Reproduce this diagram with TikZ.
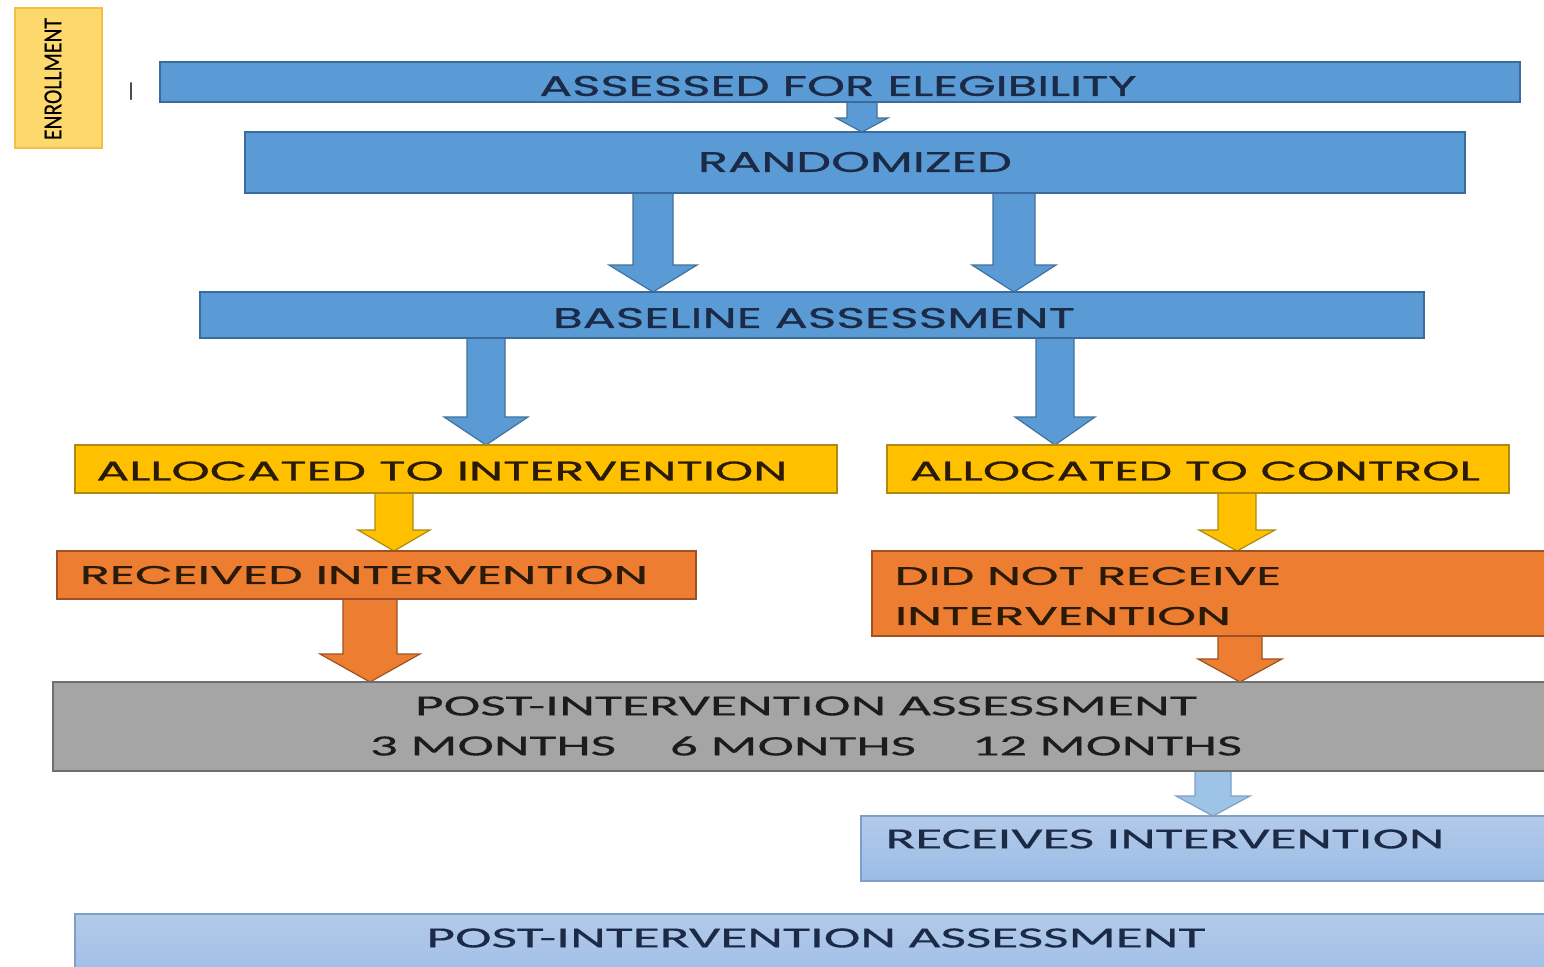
\documentclass[tikz,border=0pt]{standalone}
\usepackage{graphicx}
\usepackage{fontspec}
\usetikzlibrary{calc}
\setmainfont{Poppins}[FakeBold=0.7]
\newfontfamily\calfont{Carlito}[FakeBold=0.3]
\newlength\pxu \setlength\pxu{0.5pt}
\newcommand\tx[3]{\resizebox{#1\pxu}{#2\pxu}{#3}}
\definecolor{blu}{HTML}{5B9BD5}
\definecolor{bluline}{HTML}{3A6A9E}
\definecolor{bluarrline}{HTML}{41719C}
\definecolor{ylw}{HTML}{FFC000}
\definecolor{ylwline}{HTML}{B08A10}
\definecolor{org}{HTML}{ED7D31}
\definecolor{orgline}{HTML}{9E5224}
\definecolor{gry}{HTML}{A5A5A5}
\definecolor{gryline}{HTML}{6E6E6E}
\definecolor{lbtop}{HTML}{B3CAE9}
\definecolor{lbbot}{HTML}{9BBCE6}
\definecolor{lbline}{HTML}{7F9FC8}
\definecolor{lbarr}{HTML}{9DC3E6}
\definecolor{enrfill}{HTML}{FDD86C}
\definecolor{enrline}{HTML}{F3C043}
\definecolor{navytxt}{HTML}{1B2A47}
\definecolor{darktxt}{HTML}{2A1A08}
\definecolor{graytxt}{HTML}{1C1C1C}
\pgfdeclarelayer{bg}
\pgfsetlayers{bg,main}
% box macro: name, x0, y0, x1, y1, style
\newcommand\bx[6]{\node[#6, minimum width={(#4-#2)*\pxu}, minimum height={(#5-#3)*\pxu}] (#1) at ({(#2+#4)/2},{(#3+#5)/2}) {};}
% block arrow: source, target, cx, half shaft, half head, head length, style
\newcommand\barr[7]{%
  \path[#7] let \p1=(#1.south), \p2=(#2.north) in
  ({(#3-#4)*\pxu},{\y1+2pt}) -- ({(#3-#4)*\pxu},{\y2+#6*\pxu}) --
  ({(#3-#5)*\pxu},{\y2+#6*\pxu}) -- ({#3*\pxu},{\y2}) --
  ({(#3+#5)*\pxu},{\y2+#6*\pxu}) -- ({(#3+#4)*\pxu},{\y2+#6*\pxu}) --
  ({(#3+#4)*\pxu},{\y1+2pt}) -- cycle;}
\tikzset{
  boxbase/.style={rectangle, inner sep=0pt, outer sep=0pt, line width=0.8pt},
  bluebox/.style={boxbase, fill=blu, draw=bluline},
  ylwbox/.style={boxbase, fill=ylw, draw=ylwline},
  orgbox/.style={boxbase, fill=org, draw=orgline},
  grybox/.style={boxbase, fill=gry, draw=gryline},
  lbbox/.style={boxbase, top color=lbtop, bottom color=lbbot, draw=lbline},
  enrbox/.style={boxbase, fill=enrfill, draw=enrline, line width=1.2pt},
  lbl/.style={inner sep=0pt, outer sep=0pt},
  bluearr/.style={fill=blu, draw=bluarrline, line width=0.6pt},
  ylwarr/.style={fill=ylw, draw=ylwline, line width=0.6pt},
  orgarr/.style={fill=org, draw=orgline, line width=0.6pt},
  lbarrow/.style={fill=lbarr, draw=lbline, line width=0.6pt}
}
\begin{document}
\begin{tikzpicture}[x=0.5pt, y=-0.5pt]
\useasboundingbox (0,0) rectangle (1544,966);
\begin{scope}
\clip (0,0) rectangle (1544,966);
% boxes
\bx{enroll}{15}{8}{102}{148}{enrbox}
\bx{assess}{160}{62}{1520}{102}{bluebox}
\bx{rand}{245}{132}{1465}{193}{bluebox}
\bx{base}{200}{292}{1424}{338}{bluebox}
\bx{allocI}{75}{445}{837}{493}{ylwbox}
\bx{allocC}{887}{445}{1509}{493}{ylwbox}
\bx{recv}{57}{551}{696}{599}{orgbox}
\bx{notrecv}{872}{551}{1570}{636}{orgbox}
\bx{post}{53}{682}{1570}{771}{grybox}
\bx{recvs}{861}{816}{1570}{881}{lbbox}
\bx{post2}{75}{914}{1570}{990}{lbbox}
\end{scope}
% texts
\node[lbl, rotate=90, text=black] (enroll-t) at (53,79) {\calfont\tx{122}{17}{ENROLLMENT}};
\node[lbl, text=black] (mark) at (131,91) {\calfont\tx{3}{17}{I}};
\node[lbl, text=navytxt] (assess-t) at (838,86) {\tx{597}{20}{ASSESSED FOR ELEGIBILITY}};
\node[lbl, text=navytxt] (rand-t) at (855,162) {\tx{314}{20}{RANDOMIZED}};
\node[lbl, text=navytxt] (base-t) at (814,318) {\tx{522}{20}{BASELINE ASSESSMENT}};
\node[lbl, text=darktxt] (allocI-t) at (442,471) {\tx{691}{19}{ALLOCATED TO INTERVENTION}};
\node[lbl, text=darktxt] (allocC-t) at (1195,471) {\tx{570}{19}{ALLOCATED TO CONTROL}};
\node[lbl, text=darktxt] (recv-t) at (364,575) {\tx{568}{18}{RECEIVED INTERVENTION}};
\node[lbl, text=darktxt] (notrecv-t1) at (1088,576) {\tx{386}{18}{DID NOT RECEIVE}};
\node[lbl, text=darktxt] (notrecv-t2) at (1063,616) {\tx{336}{18}{INTERVENTION}};
\node[lbl, text=graytxt] (post-t1) at (806,706) {\calfont\tx{782}{19}{POST-INTERVENTION ASSESSMENT}};
\node[lbl, text=graytxt] (post-t2) at (806,746) {\calfont\tx{246}{19}{3 MONTHS}\hspace{54\pxu}\tx{246}{19}{6 MONTHS}\hspace{56\pxu}\tx{270}{19}{12 MONTHS}};
\node[lbl, text=navytxt] (recvs-t) at (1165,839) {\calfont\tx{559}{19}{RECEIVES INTERVENTION}};
\node[lbl, text=navytxt] (post2-t) at (816,938) {\calfont\tx{779}{19}{POST-INTERVENTION ASSESSMENT}};
% arrows
\begin{pgfonlayer}{bg}
\fill[white] (0,0) rectangle (1544,966);
\barr{assess}{rand}{862}{15}{26}{14}{bluearr}
\barr{rand}{base}{653}{20}{44}{27}{bluearr}
\barr{rand}{base}{1014}{21}{42}{27}{bluearr}
\barr{base}{allocI}{486}{19}{42}{28}{bluearr}
\barr{base}{allocC}{1055}{19}{40}{28}{bluearr}
\barr{allocI}{recv}{394}{19}{36}{21}{ylwarr}
\barr{allocC}{notrecv}{1237}{19}{38}{21}{ylwarr}
\barr{recv}{post}{370}{27}{50}{28}{orgarr}
\barr{notrecv}{post}{1240}{22}{42}{23}{orgarr}
\barr{post}{recvs}{1213}{18}{37}{20}{lbarrow}
\end{pgfonlayer}
\end{tikzpicture}
\end{document}
